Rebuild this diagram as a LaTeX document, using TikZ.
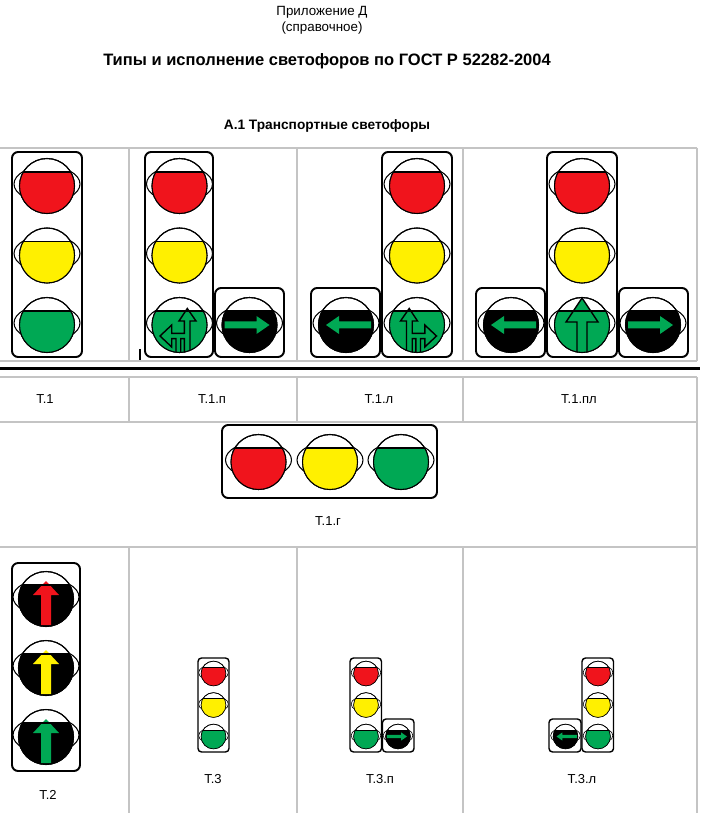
\documentclass[tikz,border=0pt]{standalone}
\usepackage{fontspec}
\setmainfont{Liberation Sans}
\usetikzlibrary{shapes,arrows,positioning}
\usepackage{xcolor}
\definecolor{lred}{RGB}{240,20,28}
\definecolor{lyellow}{RGB}{255,240,0}
\definecolor{lgreen}{RGB}{0,168,84}
\definecolor{gridgray}{RGB}{196,196,196}

% lamp: [scale]{centre}{colour}{symbol}
\newcommand{\lamp}[4][1]{%
  \begin{scope}[shift={#2},scale=#1]
    \filldraw[lampline,fill=white] (0,-2) ellipse (33 and 18);
    \filldraw[lampline,fill=white] (0,0) circle (27.5);
    \begin{scope}
      \clip (0,0) circle (27.5);
      \fill[#3] (-30,-14) rectangle (30,30);
      #4
    \end{scope}
    \draw[lampline] (0,0) circle (27.5);
    \draw[lampline] (-23.7,-14) -- (23.7,-14);
  \end{scope}}
\newcommand{\arrright}{\fill[lgreen] (-25,-3.5) -- (7,-3.5) -- (7,-9) -- (20,0) -- (7,9) -- (7,3.5) -- (-25,3.5) -- cycle;}
\newcommand{\arrleft}{\begin{scope}[xscale=-1]\arrright\end{scope}}
\newcommand{\arrup}[1]{\fill[#1] (-5,26) -- (-5,-4) -- (-13,-4) -- (0,-18) -- (13,-4) -- (5,-4) -- (5,26) -- cycle;}
\newcommand{\arrstraight}{\filldraw[lampline,fill=lgreen,line width=0.8pt] (-5,30) -- (-5,-3) -- (-16,-3) -- (0,-27) -- (16,-3) -- (5,-3) -- (5,30) -- cycle;}
\newcommand{\arrforkleft}{\filldraw[lampline,fill=lgreen,line width=0.8pt] (10.5,30) -- (10.5,-4) -- (16.5,-4) -- (7.8,-16.5) -- (-0.5,-4) -- (4.8,-4) -- (4.8,8.3) -- (-7.8,8.3) -- (-7.8,0) -- (-19.5,11) -- (-7.8,22) -- (-7.8,13.7) -- (-3.5,13.7) -- (-3.5,30) -- (1.2,30) -- (1.2,13.7) -- (4.8,13.7) -- (4.8,30) -- cycle;}
\newcommand{\arrforkright}{\begin{scope}[xscale=-1]\arrforkleft\end{scope}}

\begin{document}
\begin{tikzpicture}[x=0.02cm, y=-0.02cm]
        \tikzstyle{lampline}=[draw=black, line width=0.6pt]
        \tikzstyle{housing}=[draw=black, fill=white, line width=1.1pt, rounded corners=3.5pt]
        \tikzstyle{gridline}=[draw=gridgray, line width=0.8pt]
        \tikzstyle{lbl}=[font=\fontsize{7.4}{8}\selectfont]
        \tikzstyle{head}=[font=\fontsize{7.6}{9}\selectfont]
        \useasboundingbox (0,0) rectangle (700,813);

        \node[head]                         (appx)  at (322,12)  {Приложение Д};
        \node[head]                         (ref)   at (322,28)  {(справочное)};
        \node[font=\fontsize{9.4}{11}\selectfont\bfseries] (title) at (327,61) {Типы и исполнение светофоров по ГОСТ Р 52282-2004};
        \node[font=\fontsize{7.8}{9}\selectfont\bfseries]  (sect)  at (327,126) {А.1 Транспортные светофоры};

        \draw[gridline] (0,148) -- (697,148) (0,361) -- (697,361);
        \draw[gridline] (0,377) -- (697,377) (0,422) -- (697,422) (0,547) -- (697,547);
        \draw[line width=1.5pt] (0,368.5) -- (700,368.5);
        \foreach \x in {129,297,463}
            \draw[gridline] (\x,148) -- (\x,361) (\x,377) -- (\x,422) (\x,547) -- (\x,813);
        \draw[gridline] (697,148) -- (697,361) (697,377) -- (697,813);
        \draw[line width=0.8pt] (140,349) -- (140,360);

        % T.1
        \draw[housing] (12,152) rectangle (82,357);
        \lamp{(47,186)}{lred}{}
        \lamp{(47,255.5)}{lyellow}{}
        \lamp{(47,325)}{lgreen}{}
        % T.1.п
        \draw[housing] (145,152) rectangle (213,357);
        \draw[housing] (215,288) rectangle (284,357);
        \lamp{(179.5,186)}{lred}{}
        \lamp{(179.5,255.5)}{lyellow}{}
        \lamp{(179.5,325)}{lgreen}{\arrforkleft}
        \lamp{(249.5,325)}{black}{\arrright}
        % T.1.л
        \draw[housing] (311,288) rectangle (380,357);
        \draw[housing] (382,152) rectangle (452,357);
        \lamp{(346,325)}{black}{\arrleft}
        \lamp{(417,186)}{lred}{}
        \lamp{(417,255.5)}{lyellow}{}
        \lamp{(417,325)}{lgreen}{\arrforkright}
        % T.1.пл
        \draw[housing] (476,288) rectangle (545,357);
        \draw[housing] (547,152) rectangle (617,357);
        \draw[housing] (619,288) rectangle (688,357);
        \lamp{(511,325)}{black}{\arrleft}
        \lamp{(582,186)}{lred}{}
        \lamp{(582,255.5)}{lyellow}{}
        \lamp{(582,325)}{lgreen}{\arrstraight}
        \lamp{(653,325)}{black}{\arrright}

        \node[lbl] (t1)   at (45,399)  {Т.1};
        \node[lbl] (t1p)  at (212,399) {Т.1.п};
        \node[lbl] (t1l)  at (379,399) {Т.1.л};
        \node[lbl] (t1pl) at (579,399) {Т.1.пл};

        % T.1.г
        \draw[housing] (222,425) rectangle (437,498);
        \lamp{(258.5,462)}{lred}{}
        \lamp{(330,462)}{lyellow}{}
        \lamp{(401,462)}{lgreen}{}
        \node[lbl] (t1g) at (328,521) {Т.1.г};

        % T.2
        \draw[housing] (12,563) rectangle (80,771);
        \lamp{(46,599)}{black}{\arrup{lred}}
        \lamp{(46,668)}{black}{\arrup{lyellow}}
        \lamp{(46,737)}{black}{\arrup{lgreen}}
        \node[lbl] (t2) at (48,795) {Т.2};

        % T.3
        \begin{scope}[lampline/.style={draw=black, line width=0.35pt}, housing/.style={draw=black, fill=white, line width=0.8pt, rounded corners=2pt}]
        \draw[housing] (198,658) rectangle (229,752);
        \lamp[0.45]{(213.5,673.5)}{lred}{}
        \lamp[0.45]{(213.5,705)}{lyellow}{}
        \lamp[0.45]{(213.5,736.5)}{lgreen}{}
        % T.3.п
        \draw[housing] (350,658) rectangle (381.5,752);
        \draw[housing] (382.5,719) rectangle (414,752);
        \lamp[0.45]{(366,673.5)}{lred}{}
        \lamp[0.45]{(366,705)}{lyellow}{}
        \lamp[0.45]{(366,736.5)}{lgreen}{}
        \lamp[0.45]{(398,736.5)}{black}{\arrright}
        % T.3.л
        \draw[housing] (549,719) rectangle (581,752);
        \draw[housing] (582,658) rectangle (613.5,752);
        \lamp[0.45]{(565.5,736.5)}{black}{\arrleft}
        \lamp[0.45]{(598,673.5)}{lred}{}
        \lamp[0.45]{(598,705)}{lyellow}{}
        \lamp[0.45]{(598,736.5)}{lgreen}{}
        \end{scope}
        \node[lbl] (t3)  at (213,779) {Т.3};
        \node[lbl] (t3p) at (380,779) {Т.3.п};
        \node[lbl] (t3l) at (582,779) {Т.3.л};
    \end{tikzpicture}
\end{document}
